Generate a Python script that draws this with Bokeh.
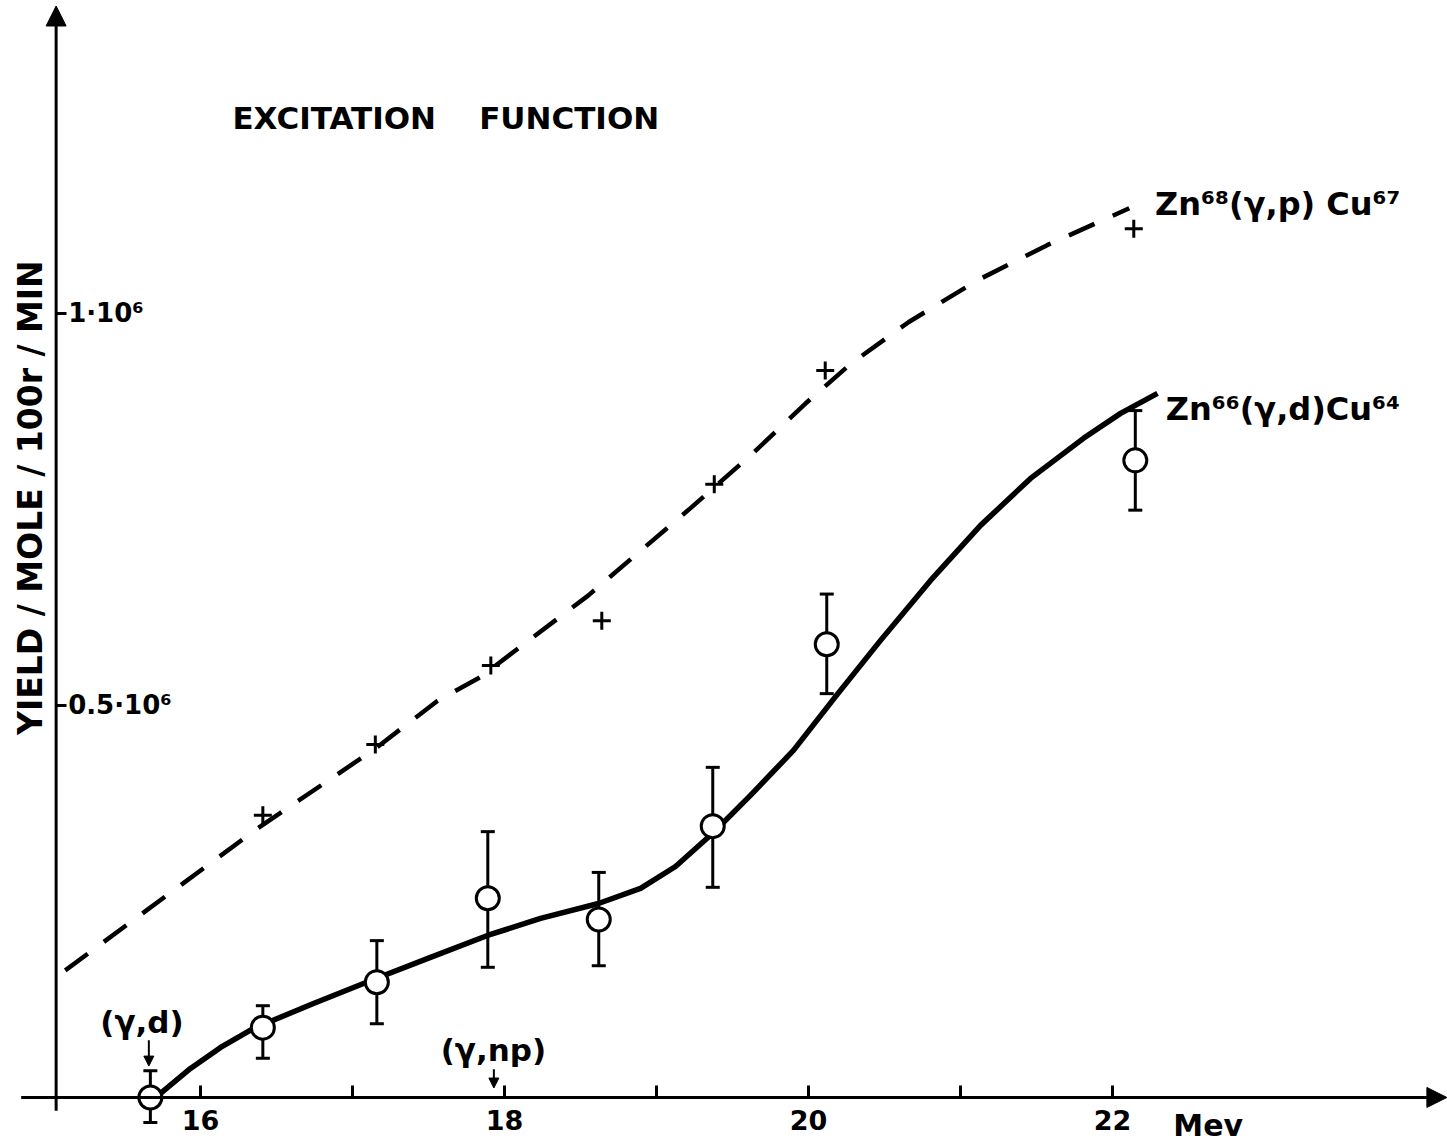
import math
from bokeh.plotting import figure
from bokeh.models import (ColumnDataSource, Range1d, FixedTicker, Whisker, TeeHead,
                          Arrow, NormalHead)
from bokeh.core.properties import value
from bokeh.embed import file_html
from bokeh.resources import INLINE

# ---- data ----
# Zn66(γ,d)Cu64 : measured points with error bars
energy_d = [15.67, 16.41, 17.16, 17.89, 18.62, 19.37, 20.12, 22.15]
yield_d = [0.0, 0.089e6, 0.147e6, 0.254e6, 0.227e6, 0.346e6, 0.578e6, 0.8125e6]
upper_d = [0.034e6, 0.117e6, 0.200e6, 0.339e6, 0.287e6, 0.421e6, 0.642e6, 0.876e6]
lower_d = [-0.032e6, 0.050e6, 0.094e6, 0.166e6, 0.168e6, 0.268e6, 0.515e6, 0.749e6]

# hand-drawn solid curve through the (γ,d) points
curve_d_x = [15.737, 15.934, 16.132, 16.349, 16.743, 17.138, 17.513, 17.888, 18.237,
             18.618, 18.895, 19.125, 19.368, 19.618, 19.901, 20.184, 20.474, 20.803,
             21.132, 21.461, 21.809, 22.053, 22.296]
curve_d_y = [0.0051e6, 0.0370e6, 0.0638e6, 0.0880e6, 0.1199e6, 0.1505e6, 0.1786e6,
             0.2066e6, 0.2283e6, 0.2474e6, 0.2666e6, 0.2946e6, 0.3367e6, 0.3852e6,
             0.4426e6, 0.5128e6, 0.5829e6, 0.6594e6, 0.7296e6, 0.7895e6, 0.8406e6,
             0.8724e6, 0.8980e6]

# Zn68(γ,p)Cu67 : measured points (crosses)
energy_p = [16.41, 17.15, 17.91, 18.64, 19.38, 20.11, 22.14]
yield_p = [0.360e6, 0.450e6, 0.551e6, 0.608e6, 0.782e6, 0.927e6, 1.108e6]

# hand-drawn dashed curve
curve_p_x = [15.11, 16.36, 17.15, 17.56, 17.84, 18.55, 19.22, 19.62, 19.98, 20.28,
             20.66, 21.11, 21.57, 22.11]
curve_p_y = [0.162e6, 0.341e6, 0.445e6, 0.506e6, 0.536e6, 0.640e6, 0.751e6, 0.819e6,
             0.885e6, 0.936e6, 0.989e6, 1.042e6, 1.087e6, 1.134e6]

x_ticks = [16, 17, 18, 19, 20, 21, 22]
x_tick_labels = {16: "16", 17: "", 18: "18", 19: "", 20: "20", 21: "", 22: "22"}
y_ticks = [0.5e6, 1.0e6]
y_tick_labels = {0.5e6: "0.5·10⁶", 1.0e6: "1·10⁶"}

FONT = "DejaVu Sans"

p = figure(width=1447, height=1144, output_backend="svg", toolbar_location=None,
           x_range=Range1d(14.684, 24.204), y_range=Range1d(-0.06e6, 1.399e6),
           x_axis_location="below", y_axis_location="right",
           min_border=0, min_border_left=0, min_border_right=0,
           min_border_top=0, min_border_bottom=0)
p.outline_line_color = None
p.grid.visible = False
p.background_fill_color = "white"

# x axis (fixed at y = 0)
xa = p.xaxis[0]
xa.fixed_location = 0
xa.ticker = FixedTicker(ticks=x_ticks)
xa.major_label_overrides = x_tick_labels
xa.axis_line_color = None
xa.major_tick_in = 12
xa.major_tick_out = 0
xa.major_tick_line_width = 3
xa.minor_tick_line_color = None
xa.major_label_standoff = 13
xa.major_label_text_font = FONT
xa.major_label_text_font_size = "27px"
xa.major_label_text_font_style = "bold"
xa.major_label_text_color = "black"

# y axis (fixed at x = 15.05, labels to the right)
ya = p.yaxis[0]
ya.fixed_location = 15.05
ya.ticker = FixedTicker(ticks=y_ticks)
ya.major_label_overrides = y_tick_labels
ya.axis_line_color = None
ya.major_tick_in = 0
ya.major_tick_out = 10
ya.major_tick_line_width = 3
ya.minor_tick_line_color = None
ya.major_label_standoff = 2
ya.major_label_text_font = FONT
ya.major_label_text_font_size = "26px"
ya.major_label_text_font_style = "bold"
ya.major_label_text_color = "black"

# axis lines with arrows
p.add_layout(Arrow(end=NormalHead(size=20, fill_color="black", line_color="black"),
                   x_start=15.05, y_start=-0.017e6, x_end=15.05, y_end=1.392e6,
                   line_width=3, line_color="black"))
p.add_layout(Arrow(end=NormalHead(size=20, fill_color="black", line_color="black"),
                   x_start=14.82, y_start=0, x_end=24.2, y_end=0,
                   line_width=3, line_color="black"))

# curves
p.line(curve_p_x, curve_p_y, line_color="black", line_width=4.5, line_dash="28 20")
p.line(curve_d_x, curve_d_y, line_color="black", line_width=5.5, line_join="round")

# error bars
src_d = ColumnDataSource(dict(x=energy_d, y=yield_d, upper=upper_d, lower=lower_d))
p.add_layout(Whisker(source=src_d, base="x", upper="upper", lower="lower",
                     dimension="height", line_width=3, line_color="black",
                     upper_head=TeeHead(size=14, line_width=3, line_color="black"),
                     lower_head=TeeHead(size=14, line_width=3, line_color="black"),
                     level="underlay"))
p.scatter("x", "y", source=src_d, marker="circle", size=23, fill_color="white",
          line_color="black", line_width=3)

p.scatter(energy_p, yield_p, marker="cross", size=18, line_color="black", line_width=3)

# texts
TXT = dict(text_font=value(FONT), text_font_style="bold", text_color="black",
           text_baseline="middle", text_align="left")
p.text(x=[16.21], y=[1.249e6], text=["EXCITATION\u00a0\u00a0\u00a0\u00a0FUNCTION"],
       text_font_size="31px", **TXT)
p.text(x=[14.882], y=[0.765e6], text=["YIELD / MOLE / 100r / MIN"], angle=math.pi / 2,
       text_font=value(FONT), text_font_style="bold", text_color="black",
       text_font_size="33px", text_baseline="middle", text_align="center")
p.text(x=[22.28], y=[1.14e6], text=["Zn⁶⁸(γ,p) Cu⁶⁷"], text_font_size="32px", **TXT)
p.text(x=[22.35], y=[0.878e6], text=["Zn⁶⁶(γ,d)Cu⁶⁴"], text_font_size="32px", **TXT)
p.text(x=[15.34], y=[0.096e6], text=["(γ,d)"], text_font_size="31px", **TXT)
p.text(x=[17.58], y=[0.06e6], text=["(γ,np)"], text_font_size="31px", **TXT)
p.text(x=[22.4], y=[-0.036e6], text=["Mev"], text_font_size="30px", **TXT)

# threshold arrows
p.add_layout(Arrow(end=NormalHead(size=10, fill_color="black", line_color="black"),
                   x_start=15.66, y_start=0.073e6, x_end=15.66, y_end=0.040e6,
                   line_width=2, line_color="black"))
p.add_layout(Arrow(end=NormalHead(size=10, fill_color="black", line_color="black"),
                   x_start=17.93, y_start=0.036e6, x_end=17.93, y_end=0.012e6,
                   line_width=2, line_color="black"))

open("out.html", "w").write(file_html(p, INLINE))
